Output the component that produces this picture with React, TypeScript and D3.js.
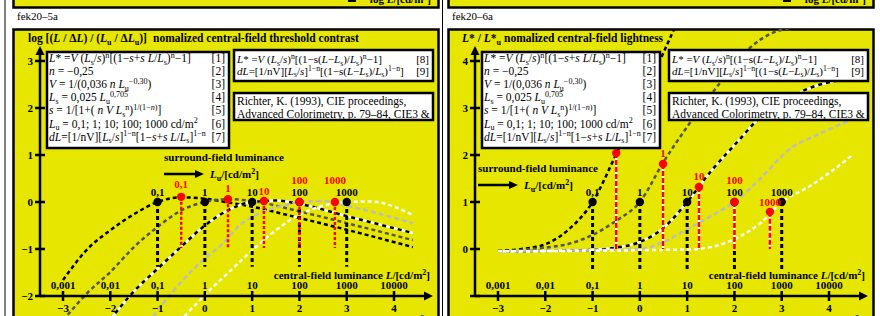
import React from 'react';
import * as d3 from 'd3';

// ---------- data ----------
const logTicks = [-3, -2, -1, 0, 1, 2, 3, 4];
const logTickLabels = ['0,001', '0,01', '0,1', '1', '10', '100', '1000', '10000'];
const axisTickLabels = ['−3', '−2', '−1', '0', '1', '2', '3', '4'];
const leftYTicks = [-2, -1, 0, 1, 2, 3];
const leftYLabels = ['−2', '−1', '0', '1', '2', '3'];
const rightYTicks = [-1, 0, 1, 2, 3, 4];
const rightYLabels = ['', '0', '1', '2', '3', '4'];
const surroundLabels = ['0,1', '1', '10', '100', '1000'];
const surroundLog = [-1, 0, 1, 2, 3];
const redLog = [-0.5, 0.49, 1.25, 2.0, 2.75];
const redThreshold = [0.11, 0.06, 0.02, 0, 0];
const redLightness = [2.04, 1.81, 1.32, 1.0, 0.79];

// threshold contrast curves (log L, value)
const thr01: [number, number][] = [[-3, -1.66], [-2.5, -1.02], [-2, -0.6], [-1.5, -0.26], [-1, 0], [-0.5, 0.1], [0, 0.07], [0.5, -0.01], [1, -0.1], [2, -0.34], [3, -0.59], [4.4, -0.96]];
const thr1: [number, number][] = [[-2.9, -2.4], [-2.5, -1.95], [-2, -1.49], [-1.5, -0.96], [-1, -0.53], [-0.5, -0.18], [0, 0], [0.5, 0.06], [1, 0.02], [2, -0.2], [3, -0.45], [4.4, -0.81]];
const thr10: [number, number][] = [[-2, -2.5], [-1.5, -1.9], [-1, -1.42], [-0.5, -0.95], [0, -0.5], [0.5, -0.17], [1, 0], [1.5, 0.03], [2, -0.04], [3, -0.3], [4.4, -0.66]];
const thr100: [number, number][] = [[-1.1, -2.44], [-0.5, -1.7], [0, -1.2], [0.32, -0.94], [0.74, -0.49], [1.23, -0.21], [1.73, -0.06], [2, 0], [2.5, 0.02], [3, -0.08], [4.4, -0.45]];
const thr1000: [number, number][] = [[-0.43, -2.43], [0.17, -1.81], [0.5, -1.5], [1, -1.03], [1.5, -0.6], [2, -0.27], [2.5, -0.08], [3, 0], [3.5, 0.01], [4.4, -0.28]];

// lightness curves
const lit01: [number, number][] = [[-3, -0.04], [-2.5, 0], [-2, 0.1], [-1.5, 0.42], [-1, 1], [-0.5, 2.02], [0, 3.1], [0.5, 4.18], [1, 5.3]];
const lit1: [number, number][] = [[-3, -0.05], [-2, 0.03], [-1.5, 0.11], [-1, 0.3], [-0.5, 0.6], [0, 1], [0.5, 1.85], [1, 2.6], [1.63, 3.45], [2.1, 4.05], [2.54, 4.45], [2.81, 4.6], [3.45, 4.74], [4.4, 4.85]];
const lit10: [number, number][] = [[-3, -0.05], [-1, -0.02], [-0.5, 0.03], [0, 0.15], [0.5, 0.45], [1, 1], [1.5, 1.65], [2.1, 2.32], [2.5, 2.76], [3, 3.1], [3.4, 3.34], [4.4, 3.62]];
const lit100: [number, number][] = [[-3, -0.05], [0, 0], [0.5, 0.15], [1, 0.42], [1.5, 0.7], [2, 1], [2.5, 1.45], [3.2, 2.15], [3.75, 2.43], [4.4, 2.72]];
const lit1000: [number, number][] = [[-3, -0.05], [1, -0.01], [1.5, 0.04], [2.1, 0.26], [2.55, 0.55], [3, 1], [3.6, 1.34], [4.5, 2.0]];

const formulas1 = [
  '~L~* =~V~ (~L~_{s}/~s~)^{n}[(1−~s~+~s L~/~L~_{s})^{n}−1]',
  '~n~ = −0,25',
  '~V~ = 1/(0,036 ~n L~_{u}^{−0,30})',
  '~L~_{s} = 0,025 ~L~_{u}^{0,705}',
  '~s~ = 1/[1+( ~n V L~_{s}^{n})^{1/(1−~n~)}]',
  '~L~_{u} = 0,1; 1; 10; 100; 1000 cd/m^{2}',
  '~dL~=[1/nV][~L~_{s}/~s~]^{1−n}[1−~s~+~s L~/~L~_{s}]^{1−n}',
];
const formulaNums1 = ['[1]', '[2]', '[3]', '[4]', '[5]', '[6]', '[7]'];
const formulas2 = [
  '~L~* =~V~ (~L~_{s}/~s~)^{n}[(1−s(~L~−~L~_{s})/~L~_{s})^{n}−1]',
  '~dL~=[1/nV][~L~_{s}/~s~]^{1−n}[(1−s(~L~−~L~_{s})/~L~_{s})^{1−n}]',
];
const formulaNums2 = ['[8]', '[9]'];
const refLines = ['Richter, K. (1993), CIE proceedings,', 'Advanced Colorimetry, p. 79–84, CIE3 &'];

// ---------- helpers ----------
const FONT = "'Liberation Serif', 'Times New Roman', serif";
const YEL = '#e6e600';

type Seg = { t: string; it: boolean; lv: number };
function parseRich(s: string): Seg[] {
  const segs: Seg[] = [];
  let it = false;
  const stack: number[] = [0];
  let buf = '';
  const lv = () => stack[stack.length - 1];
  const flush = () => { if (buf) { segs.push({ t: buf, it, lv: lv() }); buf = ''; } };
  for (let i = 0; i < s.length; i++) {
    const c = s[i];
    if ((c === '_' || c === '^') && s[i + 1] === '{') { flush(); stack.push(c === '_' ? -1 : 1); i++; continue; }
    if (c === '}') { flush(); stack.pop(); continue; }
    if (c === '~') { flush(); it = !it; continue; }
    buf += c;
  }
  flush();
  return segs;
}

function Rich(p: { x: number; y: number; s: string; fs: number; bold?: boolean; anchor?: string; fill?: string }) {
  const segs = parseRich(p.s);
  let cur = 0;
  return (
    <text x={p.x} y={p.y} fontSize={p.fs} fontWeight={p.bold ? 'bold' : 'normal'} textAnchor={p.anchor || 'start'} fill={p.fill || '#000'} style={{ whiteSpace: 'pre' }}>
      {segs.map((g, k) => {
        const target = g.lv === -1 ? p.fs * 0.25 : g.lv === 1 ? -p.fs * 0.38 : 0;
        const dy = target - cur;
        cur = target;
        return (
          <tspan key={k} dy={dy} fontSize={g.lv ? p.fs * 0.7 : p.fs} fontStyle={g.it ? 'italic' : 'normal'}>{g.t}</tspan>
        );
      })}
    </text>
  );
}

const curveStyles = [
  { base: '', stroke: '#000', dash: '4 3' },
  { base: '', stroke: '#555', dash: '4 3' },
  { base: '#fff', stroke: '#000', dash: '4 4' },
  { base: '', stroke: '#bdbdbd', dash: '5 3' },
  { base: '', stroke: '#fff', dash: '4 3' },
];

type PanelProps = {
  id: string;
  off: number;
  xs: d3.ScaleLinear<number, number>;
  ys: d3.ScaleLinear<number, number>;
  curves: [number, number][][];
  yTicks: number[];
  yLabels: string[];
  yMin: number;
  blackVal: number;
  blackEnd: number;
  redVals: number[];
  redEnd: number;
  redLabelDy: number[];
  redWhite: boolean;
  title: string;
  title2X: number;
  label: string;
  surroundY: number;
  box1W: number;
};

function Panel(p: PanelProps) {
  const { off, xs, ys } = p;
  const line = d3.line<[number, number]>().x(d => xs(d[0])).y(d => ys(d[1])).curve(d3.curveMonotoneX);
  const axX = 40 + off;
  const axY = ys(p.yMin);
  const b1x = 47 + off, b1y = 52, b1w = p.box1W, b1h = 96;
  const b2x = 234 + off, b2y = 50, b2w = 199, b2h = 31;
  const b3x = 234 + off, b3y = 93, b3w = 199, b3h = 27;
  const sx = p.off === 0 ? 164 : 478;
  return (
    <g fontFamily={FONT}>
      <defs>
        <clipPath id={'clip' + p.id}><rect x={13 + off} y={29} width={426} height={300} /></clipPath>
        <clipPath id={'ref' + p.id}><rect x={b3x} y={b3y} width={b3w} height={b3h} /></clipPath>
        <clipPath id={'top' + p.id}><rect x={13 + off} y={-30} width={426} height={38} /></clipPath>
      </defs>
      {/* top strip (previous panel) */}
      <rect x={13.5 + off} y={-20} width={425} height={27.5} fill={YEL} stroke="#000" strokeWidth={2.5} />
      <g clipPath={`url(#top${p.id})`}>
        <line x1={348 + off} x2={356 + off} y1={1} y2={1} stroke="#000" strokeWidth={2} />
        <text x={431 + off} y={3} fontSize={11} fontWeight="bold" textAnchor="end">log <tspan fontStyle="italic">L</tspan>/[cd/m<tspan dy={-4} fontSize={8}>2</tspan><tspan dy={4}>]</tspan></text>
      </g>
      <text x={17 + off} y={20} fontSize={11}>{p.label}</text>

      <rect x={13.5 + off} y={29.5} width={425} height={300} fill={YEL} stroke="#000" strokeWidth={2.5} />
      <g clipPath={`url(#clip${p.id})`}>
        {p.curves.map((c, i) => {
          const st = curveStyles[i];
          return (
            <g key={i}>
              {st.base && <path d={line(c) || ''} fill="none" stroke={st.base} strokeWidth={2.5} />}
              <path d={line(c) || ''} fill="none" stroke={st.stroke} strokeWidth={2.5} strokeDasharray={st.dash} />
            </g>
          );
        })}
        {/* vertical lines */}
        {surroundLog.map((u, i) => (
          <line key={'bv' + i} x1={xs(u)} x2={xs(u)} y1={ys(p.blackVal)} y2={ys(p.blackEnd)} stroke="#000" strokeWidth={3} strokeDasharray="4 3" />
        ))}
        {redLog.map((u, i) => (
          <g key={'rv' + i}>
            {p.redWhite && <line x1={xs(u)} x2={xs(u)} y1={ys(p.redVals[i])} y2={ys(p.redEnd)} stroke="#fff" strokeWidth={2.5} />}
            <line x1={xs(u)} x2={xs(u)} y1={ys(p.redVals[i])} y2={ys(p.redEnd)} stroke="#f00" strokeWidth={2.5} strokeDasharray={p.redWhite ? '5 2' : '3 2'} />
          </g>
        ))}
        {surroundLog.map((u, i) => (
          <circle key={'bd' + i} cx={xs(u)} cy={ys(p.blackVal)} r={4.2} fill="#000" />
        ))}
        {redLog.map((u, i) => (
          <circle key={'rd' + i} cx={xs(u)} cy={ys(p.redVals[i])} r={4.2} fill="#f00" />
        ))}
        {surroundLog.map((u, i) => (
          <text key={'bl' + i} x={xs(u)} y={ys(p.blackVal) - 6} fontSize={11} fontWeight="bold" textAnchor="middle">{surroundLabels[i]}</text>
        ))}
        {redLog.map((u, i) => (
          <text key={'rl' + i} x={xs(u)} y={ys(p.redVals[i]) + p.redLabelDy[i]} fontSize={11} fontWeight="bold" textAnchor="middle" fill="#f00">{surroundLabels[i]}</text>
        ))}
      </g>

      {/* axes */}
      <line x1={axX} x2={axX} y1={axY} y2={52} stroke="#000" strokeWidth={2.5} />
      <path d={`M${axX},46 L${axX - 4.5},55 L${axX + 4.5},55 Z`} fill="#000" />
      {p.yTicks.map((t, i) => (
        <g key={'yt' + i}>
          <line x1={axX - 5} x2={axX + 5} y1={ys(t)} y2={ys(t)} stroke="#000" strokeWidth={2.5} />
          <text x={axX - 7} y={ys(t) + 4} fontSize={11} fontWeight="bold" textAnchor="end">{p.yLabels[i]}</text>
        </g>
      ))}
      <line x1={axX} x2={426 + off} y1={axY} y2={axY} stroke="#000" strokeWidth={2.5} />
      <path d={`M${433 + off},${axY} L${424 + off},${axY - 4.5} L${424 + off},${axY + 4.5} Z`} fill="#000" />
      {logTicks.map((t, i) => (
        <g key={'xt' + i}>
          <line x1={xs(t)} x2={xs(t)} y1={axY - 5} y2={axY + 5} stroke="#000" strokeWidth={2.5} />
          <text x={xs(t)} y={axY - 7} fontSize={11} fontWeight="bold" textAnchor="middle">{logTickLabels[i]}</text>
          <text x={xs(t)} y={axY + 16} fontSize={11} fontWeight="bold" textAnchor="middle">{axisTickLabels[i]}</text>
        </g>
      ))}
      <text x={430 + off} y={279} fontSize={11} fontWeight="bold" textAnchor="end">central-field luminance <tspan fontStyle="italic">L</tspan>/[cd/m<tspan dy={-4} fontSize={8}>2</tspan><tspan dy={4}>]</tspan></text>
      <g clipPath={`url(#clip${p.id})`}>
        <line x1={352 + off} x2={360 + off} y1={322} y2={322} stroke="#000" strokeWidth={2} />
        <text x={428 + off} y={325} fontSize={11} fontWeight="bold" textAnchor="end">log <tspan fontStyle="italic">L</tspan>/[cd/m<tspan dy={-4} fontSize={8}>2</tspan><tspan dy={4}>]</tspan></text>
      </g>

      {/* surround label */}
      <text x={sx} y={p.surroundY} fontSize={11} fontWeight="bold">surround-field luminance</text>
      <line x1={sx} x2={sx + 33} y1={p.surroundY + 13} y2={p.surroundY + 13} stroke="#000" strokeWidth={2.5} />
      <path d={`M${sx + 40},${p.surroundY + 13} L${sx + 31},${p.surroundY + 9} L${sx + 31},${p.surroundY + 17} Z`} fill="#000" />
      <text x={sx + 46} y={p.surroundY + 17} fontSize={11} fontWeight="bold"><tspan fontStyle="italic">L</tspan><tspan dy={3} fontSize={8}>u</tspan><tspan dy={-3}>/[cd/m</tspan><tspan dy={-4} fontSize={8}>2</tspan><tspan dy={4}>]</tspan></text>

      {/* title */}
      <Rich x={p.off === 0 ? 28 : 462} y={42} s={p.title} fs={11.5} bold />
      <text x={p.title2X} y={42} fontSize={11.5} fontWeight="bold">nomalized central-field {p.id === 'L' ? 'threshold contrast' : 'lightness'}</text>

      {/* formula boxes */}
      <rect x={b1x} y={b1y} width={b1w} height={b1h} fill="#fff" stroke="#000" strokeWidth={2.5} />
      {formulas1.map((f, i) => (
        <g key={'f1' + i}>
          <Rich x={b1x + 2} y={62 + i * 13.1} s={f} fs={11.5} />
          <text x={b1x + b1w - 4} y={62 + i * 13.1} fontSize={11.5} textAnchor="end">{formulaNums1[i]}</text>
        </g>
      ))}
      <rect x={b2x} y={b2y} width={b2w} height={b2h} fill="#fff" stroke="#000" strokeWidth={2.5} />
      {formulas2.map((f, i) => (
        <g key={'f2' + i}>
          <Rich x={b2x + 3} y={63 + i * 11.7} s={f} fs={11} />
          <text x={b2x + b2w - 4} y={63 + i * 11.7} fontSize={11} textAnchor="end">{formulaNums2[i]}</text>
        </g>
      ))}
      <rect x={b3x} y={b3y} width={b3w} height={b3h} fill="#fff" />
      <g clipPath={`url(#ref${p.id})`}>
        {refLines.map((t, i) => (
          <text key={'r' + i} x={b3x + 3} y={105 + i * 13} fontSize={11.5}>{t}</text>
        ))}
      </g>
      <rect x={b3x} y={b3y} width={b3w} height={b3h} fill="none" stroke="#000" strokeWidth={2.5} />
    </g>
  );
}

export default function App() {
  const lx = d3.scaleLinear().domain([-3, 4]).range([63, 394]);
  const ly = d3.scaleLinear().domain([-2, 3]).range([296, 61]);
  const rx = d3.scaleLinear().domain([-3, 4]).range([498, 829]);
  const ry = d3.scaleLinear().domain([-1, 4]).range([296, 61]);
  return (
    <svg width={880} height={316} style={{ position: 'fixed', left: 0, top: 0, background: '#fff' }} fontFamily={FONT}>
      <rect x={0} y={0} width={880} height={316} fill="#fff" />
      <line x1={5} x2={5} y1={0} y2={316} stroke="#000" strokeWidth={1} />
      <line x1={442.5} x2={442.5} y1={0} y2={316} stroke="#000" strokeWidth={1} />
      <Panel id="L" off={0} xs={lx} ys={ly} curves={[thr01, thr1, thr10, thr100, thr1000]}
        yTicks={leftYTicks} yLabels={leftYLabels} yMin={-2}
        blackVal={0} blackEnd={-1.38} redVals={redThreshold} redEnd={-0.98}
        redLabelDy={[-9, -7, -6, -18, -18]} redWhite={false}
        title="log [(~L~ / Δ~L~) / (~L~_{u} / Δ~L~_{u})]" title2X={153} label="fek20–5a" surroundY={161} box1W={182} />
      <Panel id="R" off={435} xs={rx} ys={ry} curves={[lit01, lit1, lit10, lit100, lit1000]}
        yTicks={rightYTicks} yLabels={rightYLabels} yMin={-1}
        blackVal={1} blackEnd={-0.49} redVals={redLightness} redEnd={0}
        redLabelDy={[-9, -7, -7, -18, -6]} redWhite={true}
        title="~L~* / ~L~*_{u}" title2X={504} label="fek20–6a" surroundY={172} box1W={178} />
    </svg>
  );
}
